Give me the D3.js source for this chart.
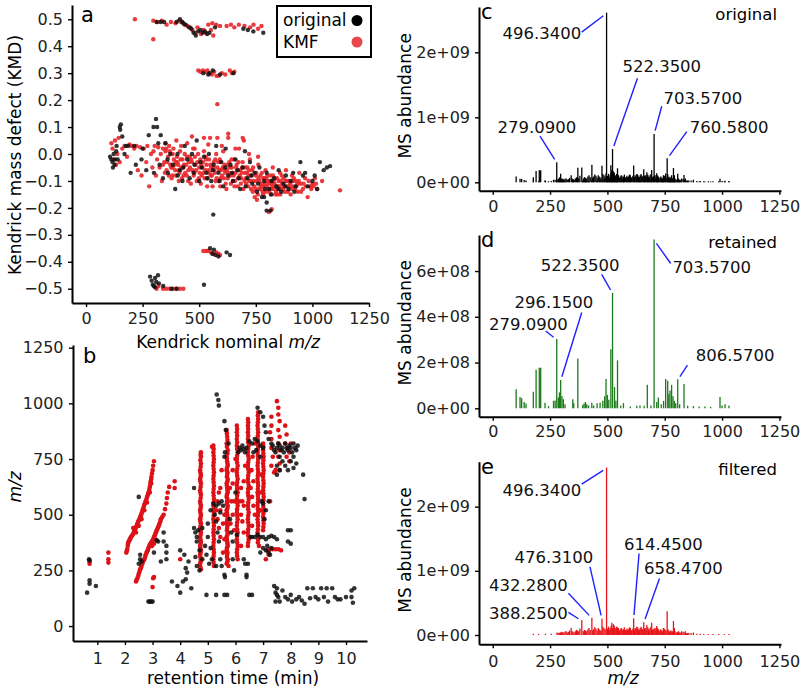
<!DOCTYPE html>
<html>
<head>
<meta charset="utf-8">
<script src="https://cdn.jsdelivr.net/npm/d3@7"></script>
<style>
	body { margin: 0; background: #fff; }
	svg { display: block; font-family: "DejaVu Sans", sans-serif; }
</style>
</head>
<body>
<div class="svg-container"></div>
<script>
(function () {

	"use strict";

	// panel a: kendrick nominal m/z vs kendrick mass defect
	var kmdOriginal = [
		[106,-0.01],[112,-0.02],[117,-0.03],[119,-0.05],[122,0.0],[126,-0.04],[128,-0.02],[133,0.01],[149,0.1],[154,0.11],[151,0.09],[160,0.065],
		[170,0.0],[176,0.03],[186,0.03],[197,-0.07],[213,0.03],[245,-0.02],[266,-0.06],[277,0.07],[298,0.1],[309,0.13],[314,0.1],[319,0.04],
		[325,-0.04],[330,0.07],[340,-0.09],[351,0.04],[362,-0.07],[372,0.0],[383,-0.04],[394,-0.13],[404,0.0],[415,-0.06],[426,-0.1],[436,0.03],
		[447,-0.02],[458,-0.09],[468,0.0],[479,-0.04],[489,0.05],[500,-0.1],[511,-0.05],[521,-0.01],[532,-0.07],[543,0.0],[553,-0.1],[564,-0.04],
		[575,0.03],[585,-0.07],[596,-0.03],[606,-0.12],[617,0.02],[628,-0.08],[638,-0.04],[649,-0.1],[660,-0.02],[670,-0.06],[681,-0.13],[692,-0.05],
		[702,0.01],[713,-0.09],[724,-0.03],[734,-0.11],[745,-0.07],[755,-0.14],[766,-0.05],[777,-0.16],[787,-0.1],[798,-0.07],[809,-0.13],[819,-0.15],
		[830,-0.09],[841,-0.12],[851,-0.06],[862,-0.14],[872,-0.11],[883,-0.08],[894,-0.13],[904,-0.1],[915,-0.07],[926,-0.12],[947,-0.03],[958,-0.08],
		[968,-0.07],[1000,-0.1],[1021,-0.13],[1033,-0.03],[1050,-0.06],[1064,-0.05],[1078,-0.045],[562,-0.225],[798,-0.21],[815,-0.21],[787,-0.16],[798,-0.18],
		[360,-0.02],[405,-0.08],[430,-0.05],[475,-0.07],[505,-0.03],[535,-0.09],[560,-0.06],[590,-0.1],[615,-0.05],[645,-0.07],[675,-0.09],[705,-0.12],
		[730,-0.08],[760,-0.11],[790,-0.13],[820,-0.1],[850,-0.13],[880,-0.12],[920,-0.14],[980,-0.12],[1010,-0.08],[300,-0.07],[250,0.02],[220,-0.04],
		[140,-0.02],[135,0.03],
		[312,0.49],[330,0.49],[345,0.49],[400,0.49],[415,0.5],[425,0.49],[430,0.485],[440,0.48],[455,0.47],[465,0.465],[475,0.45],[485,0.44],
		[495,0.455],[505,0.46],[515,0.45],[525,0.455],[535,0.445],[545,0.45],[570,0.47],[695,0.465],[715,0.46],[739,0.455],[783,0.45],
		[560,0.31],[545,0.3],[540,0.295],[518,0.3],[592,0.295],[651,0.3],
		[548,-0.35],[558,-0.37],[572,-0.375],[565,-0.355],[585,-0.38],[621,-0.365],[636,-0.375],
		[283,-0.455],[290,-0.47],[295,-0.485],[300,-0.49],[305,-0.46],[310,-0.475],[318,-0.45],[322,-0.48],[305,-0.495],[341,-0.49],[378,-0.5],[400,-0.5],[521,-0.485]
	];

	var kmdFiltered = [
		[112,0.04],[117,0.02],[122,-0.02],[128,0.05],[133,-0.04],[138,0.0],[144,0.06],[149,-0.03],[160,0.02],[170,0.03],[181,-0.01],[192,0.035],
		[202,0.03],[213,0.02],[223,0.03],[229,-0.06],[239,0.025],[245,-0.08],[255,0.02],[266,-0.03],[271,0.03],[279,-0.12],[287,0.0],[293,-0.05],
		[298,0.01],[303,0.03],[309,-0.08],[314,-0.02],[319,0.025],[325,-0.05],[330,0.0],[335,-0.1],[340,0.02],[346,-0.03],[351,0.01],[356,-0.06],
		[362,-0.01],[367,0.03],[372,-0.04],[378,-0.09],[383,0.0],[388,-0.02],[394,-0.06],[399,0.05],[404,-0.03],[410,-0.1],[415,0.01],[420,-0.05],
		[426,-0.02],[431,-0.08],[436,0.0],[442,-0.04],[447,0.04],[452,-0.06],[458,-0.01],[463,-0.11],[468,-0.03],[473,0.02],[479,-0.07],[484,-0.04],
		[489,-0.1],[495,0.0],[500,-0.05],[505,-0.02],[511,-0.08],[516,-0.03],[521,0.01],[527,-0.06],[532,-0.04],[537,-0.09],[543,-0.02],[548,0.06],
		[553,-0.05],[559,-0.12],[564,-0.03],[569,-0.07],[575,0.0],[580,-0.05],[585,-0.1],[591,-0.02],[596,-0.06],[601,-0.08],[606,0.01],[612,-0.04],
		[617,-0.11],[622,-0.06],[628,0.06],[633,-0.03],[638,-0.08],[644,-0.05],[649,-0.1],[654,-0.02],[660,-0.07],[665,-0.04],[670,-0.12],[676,0.02],
		[681,-0.06],[686,-0.09],[692,-0.03],[697,0.05],[702,-0.07],[708,-0.11],[713,-0.05],[718,-0.08],[724,-0.02],[729,-0.13],[734,-0.06],[740,-0.1],
		[745,-0.16],[750,-0.08],[755,-0.17],[761,-0.04],[766,-0.1],[771,-0.13],[777,-0.07],[782,-0.15],[787,-0.09],[793,-0.06],[798,-0.12],[803,-0.1],
		[809,-0.14],[814,-0.08],[819,-0.11],[825,-0.05],[830,-0.13],[835,-0.09],[841,-0.12],[846,-0.15],[851,-0.1],[857,-0.07],[862,-0.13],[867,-0.11],
		[872,-0.09],[878,-0.14],[883,-0.06],[888,-0.12],[894,-0.1],[904,-0.15],[910,-0.08],[915,-0.12],[926,-0.1],[936,-0.14],[942,-0.07],[947,-0.11],
		[958,-0.13],[968,-0.09],[979,-0.16],[990,-0.12],[1000,-0.11],[1011,-0.09],[1021,-0.13],[1043,-0.1],[1122,-0.135],
		[468,0.065],[521,0.06],[628,0.075],[580,0.06],[692,0.06],[808,-0.215],[820,-0.205],
		[383,-0.05],[396,-0.03],[413,-0.07],[428,-0.05],[445,-0.08],[455,-0.03],[470,-0.06],[481,-0.01],[498,-0.09],[509,-0.04],[519,-0.07],[530,-0.02],
		[540,-0.06],[551,-0.08],[562,-0.05],[572,-0.1],[583,-0.03],[594,-0.09],[604,-0.05],[615,-0.07],[626,-0.09],[636,-0.05],[647,-0.07],[658,-0.1],
		[668,-0.06],[679,-0.08],[690,-0.05],[700,-0.1],[711,-0.07],[721,-0.1],[732,-0.08],[743,-0.12],[753,-0.1],[764,-0.13],[775,-0.11],[785,-0.12],
		[796,-0.09],[807,-0.11],[817,-0.13],[828,-0.1],[839,-0.14],[849,-0.12],[860,-0.1],[870,-0.13],[881,-0.1],[892,-0.14],[902,-0.11],[913,-0.1],
		[923,-0.13],[934,-0.11],
		[410,-0.06],[418,-0.02],[424,-0.09],[432,-0.04],[438,-0.07],[446,-0.01],[451,-0.1],[459,-0.05],[464,-0.02],[476,-0.08],[486,-0.06],[492,-0.03],
		[502,-0.07],[507,-0.11],[514,-0.05],[524,-0.09],[529,-0.01],[535,-0.12],[545,-0.07],[549,-0.04],[556,-0.08],[566,-0.06],[571,-0.02],[577,-0.09],
		[588,-0.06],[593,-0.12],[598,-0.03],[609,-0.09],[613,-0.06],[620,-0.13],[624,-0.04],[631,-0.07],[640,-0.11],[643,-0.02],[652,-0.08],[656,-0.12],
		[663,-0.05],[672,-0.09],[674,-0.03],[684,-0.11],[688,-0.07],[695,-0.13],[704,-0.05],[706,-0.09],[716,-0.12],[720,-0.06],[727,-0.1],[737,-0.14],
		[738,-0.05],[748,-0.13],[752,-0.07],[759,-0.15],[762,-0.09],[770,-0.08],[773,-0.12],[780,-0.14],[783,-0.09],[791,-0.11],[794,-0.14],[801,-0.08],
		[805,-0.13],[812,-0.1],[816,-0.15],[823,-0.12],[826,-0.08],[833,-0.11],[837,-0.15],[844,-0.09],[848,-0.13],[855,-0.12],[858,-0.15],[865,-0.08],
		[876,-0.12],[886,-0.1],[897,-0.12],[907,-0.13],[918,-0.09],[929,-0.12],[940,-0.1],[950,-0.14],[961,-0.11],[972,-0.12],[983,-0.1],[995,-0.13],
		[1005,-0.12],[1016,-0.11],[340,-0.04],[348,-0.07],[354,0.02],[359,-0.03],[365,-0.08],[370,0.01],[376,-0.05],[381,-0.08],[386,0.02],[392,-0.04],
		[397,-0.08],[402,-0.01],[407,-0.04],[350,0.04],[420,0.03],[480,0.02],[540,0.035],[600,0.03],[660,0.02],[720,0.0],[760,-0.01],
		[216,0.5],[297,0.495],[315,0.49],[335,0.495],[356,0.48],[375,0.49],[395,0.485],[410,0.495],[420,0.49],[435,0.48],[448,0.475],[460,0.47],
		[470,0.46],[482,0.45],[492,0.47],[508,0.445],[520,0.46],[530,0.45],[540,0.48],[552,0.46],[562,0.44],[558,0.485],[575,0.48],[592,0.475],
		[621,0.475],[640,0.48],[655,0.47],[675,0.48],[700,0.475],[725,0.47],[740,0.48],[760,0.465],[775,0.475],[297,0.426],
		[496,0.31],[506,0.305],[516,0.31],[526,0.305],[536,0.31],[546,0.3],[556,0.295],[566,0.305],[576,0.29],[586,0.29],[600,0.3],[615,0.295],
		[635,0.31],[645,0.3],[655,0.305],[580,0.185],
		[518,-0.36],[530,-0.36],[540,-0.36],[552,-0.365],[562,-0.37],[575,-0.365],[585,-0.37],[592,-0.375],
		[312,-0.5],[320,-0.49],[340,-0.5],[355,-0.5],[370,-0.5],[385,-0.5],[400,-0.5],[415,-0.5],[430,-0.5]
	];

	// panel b: retention time (min) vs m/z
	var rtOriginal = [
		[0.63,150],[0.72,190],[0.72,205],[0.95,180],[0.72,295],[0.7,300],
		[2.5,580],[2.55,300],[2.5,280],[2.6,290],[2.55,320],[2.85,110],[2.9,110],[2.95,110],[3.0,110],
		[3.05,330],[3.15,385],[3.2,380],[3.3,290],[3.4,420],[3.5,360],[3.5,330],[3.5,300],[3.4,380],
		[3.7,200],[3.9,180],[4.0,340],[4.0,150],[4.1,200],[4.15,320],[4.2,260],[4.25,240],[4.3,290],[4.4,170],[4.2,210],
		[4.5,620],[4.5,440],[4.55,420],[4.6,400],[4.65,430],[4.6,380],[4.7,340],[4.55,310],[4.6,270],[4.7,250],[4.8,300],[4.8,440],
		[4.9,360],[4.95,320],[5.0,400],[5.0,460],[5.05,280],[5.1,350],[5.1,520],[5.15,300],[5.2,550],[5.25,500],[5.3,470],[5.3,540],
		[5.35,420],[5.4,380],[5.4,550],[5.45,300],[5.5,270],[5.3,270],[5.45,510],[5.5,560],[5.55,540],[5.6,230],[5.62,220],
		[4.95,140],[5.3,140],[5.6,140],[5.7,140],[5.32,1040],[5.38,1015],[5.4,990],
		[5.6,920],[5.65,880],[5.62,780],[5.6,760],[5.75,820],[5.8,480],[5.85,420],[5.9,380],[5.95,250],[5.9,300],[6.0,600],[6.05,410],
		[6.1,780],[6.15,800],[6.2,790],[6.25,810],[6.3,795],[6.35,780],[6.4,800],[6.3,300],[6.35,280],[6.4,230],[6.4,220],[6.45,280],
		[6.5,140],[6.6,140],[6.55,400],[6.6,400],[6.7,400],[6.8,410],[6.9,400],[7.0,400],[7.1,390],[7.2,400],[7.3,405],[7.4,400],[7.5,390],
		[6.5,830],[6.6,820],[6.7,840],[6.8,830],[6.9,810],[7.0,800],[6.75,790],[6.65,780],[6.9,760],[6.8,980],[6.9,960],[7.0,940],
		[7.05,900],[7.1,870],[7.2,840],[7.3,820],[7.35,810],[7.4,790],[7.45,780],[7.5,800],[7.55,820],[7.6,810],[7.65,790],[7.7,800],
		[7.75,780],[7.8,820],[7.85,800],[7.9,790],[7.95,810],[8.0,800],[8.05,780],[8.1,820],[8.15,800],[8.2,790],[8.25,810],
		[7.6,760],[7.7,740],[7.8,720],[7.9,700],[8.0,740],[8.1,760],[8.2,730],[8.1,710],[7.5,680],[7.6,700],[7.5,720],
		[7.2,560],[7.1,520],[7.0,550],[6.95,560],[7.05,480],[7.1,340],[7.2,330],[7.25,320],[7.3,350],[7.0,350],[6.9,330],[7.15,360],
		[7.9,430],[8.0,430],[7.9,380],[8.0,370],[8.45,680],[8.5,570],
		[7.4,180],[7.5,170],[7.45,150],[7.5,140],[7.55,130],[7.45,110],[7.6,110],[7.7,160],[7.8,130],[7.9,120],[8.0,140],[8.05,110],
		[8.2,120],[8.3,130],[8.4,115],[8.5,100],[8.6,170],[8.7,125],[8.8,170],[8.9,130],[9.0,120],[9.1,170],[9.2,130],[9.3,170],
		[9.35,110],[9.5,170],[9.6,130],[9.7,120],[9.8,120],[10.0,130],[10.2,160],[10.2,130],[10.25,105],[10.3,170]
	];

	var rtFiltered = [
		[0.72,290],[0.72,280],[1.4,330],[1.4,300],[1.4,285],
		[2.05,330],[2.08,345],[2.1,360],[2.12,375],[2.16,385],[2.2,395],[2.25,405],[2.3,415],[2.35,430],[2.4,445],[2.45,460],[2.5,475],
		[2.55,490],[2.6,505],[2.65,525],[2.7,545],[2.75,560],[2.8,580],[2.85,600],[2.9,625],[2.93,650],[2.96,670],[3.0,700],[3.05,740],
		[2.3,440],[2.4,420],[2.5,450],[2.6,480],[2.7,520],[2.8,555],[2.9,600],[2.95,640],
		[2.07,338],[2.11,368],[2.14,380],[2.18,390],[2.22,400],[2.28,410],[2.33,422],[2.38,438],[2.43,452],[2.48,468],[2.53,482],[2.58,498],
		[2.63,515],[2.68,535],[2.73,552],[2.78,570],[2.83,590],[2.88,612],[2.92,638],[2.95,660],[2.98,685],[3.02,720],
		[2.4,200],[2.45,215],[2.5,235],[2.55,255],[2.6,270],[2.65,290],[2.7,300],[2.75,320],[2.8,335],[2.85,350],[2.9,365],[2.95,375],
		[3.0,385],[3.05,400],[3.1,415],[3.15,430],[3.2,445],[3.25,460],[3.3,480],[3.4,500],[3.5,550],[3.55,600],[3.6,625],[3.8,650],
		[2.42,207],[2.48,225],[2.53,245],[2.58,262],[2.63,280],[2.68,295],[2.73,310],[2.78,328],[2.83,342],[2.88,358],[2.93,370],[2.98,380],
		[3.03,392],[3.08,408],[3.13,422],[3.18,438],[3.23,452],[3.28,470],[3.35,490],[3.45,525],[3.52,575],
		[3.8,620],[2.98,360],[3.05,370],[3.1,390],[3.0,175],[3.02,215],[3.05,220],[4.0,300],
		[4.75,780],[4.75,760],[4.75,730],[4.72,700],[4.75,680],[4.72,660],[4.75,640],[4.72,610],[4.75,590],[4.72,560],[4.75,540],[4.72,520],
		[4.75,500],[4.72,480],[4.75,460],[4.72,440],[4.75,420],[4.72,400],[4.75,380],[4.72,360],[4.75,340],[4.72,320],[4.75,300],[4.72,280],[4.75,255],
		[4.74,770],[4.73,745],[4.74,715],[4.73,690],[4.74,670],[4.73,650],[4.74,625],[4.73,600],[4.74,575],[4.73,550],[4.74,530],[4.73,510],
		[4.74,490],[4.73,470],[4.74,450],[4.73,430],[4.74,410],[4.73,390],[4.74,370],[4.73,350],[4.74,330],[4.73,310],[4.74,290],[4.73,265],
		[5.2,810],[5.2,780],[5.22,750],[5.2,720],[5.22,690],[5.2,660],[5.22,630],[5.2,600],[5.22,570],[5.2,540],[5.22,510],[5.2,480],
		[5.22,450],[5.2,420],[5.22,390],[5.2,360],[5.22,330],[5.2,300],[5.22,270],[5.3,520],[5.35,480],[5.4,440],[5.45,400],[5.35,560],[5.45,520],
		[5.21,795],[5.21,765],[5.21,735],[5.21,705],[5.21,675],[5.21,645],[5.21,615],[5.21,585],[5.21,555],[5.21,525],[5.21,495],[5.21,465],
		[5.21,435],[5.21,405],[5.21,375],[5.21,345],[5.21,315],[5.21,285],
		[5.68,880],[5.7,850],[5.68,820],[5.72,790],[5.68,760],[5.7,740],[5.72,720],[5.68,700],[5.7,680],[5.72,660],[5.68,640],[5.7,620],
		[5.72,600],[5.68,580],[5.7,560],[5.72,540],[5.68,520],[5.7,500],[5.72,480],[5.68,460],[5.7,440],[5.72,420],[5.68,400],[5.7,380],
		[5.72,360],[5.68,340],[5.7,320],[5.72,300],[5.68,280],[5.75,270],[5.8,620],[5.85,560],[5.9,500],[5.82,460],[5.95,430],[5.6,500],
		[5.55,460],[5.6,390],[5.55,330],
		[5.69,865],[5.71,835],[5.69,805],[5.71,775],[5.69,750],[5.71,730],[5.69,710],[5.71,690],[5.69,670],[5.71,650],[5.69,630],[5.71,610],
		[5.69,590],[5.71,570],[5.69,550],[5.71,530],[5.69,510],[5.71,490],[5.69,470],[5.71,450],[5.69,430],[5.71,410],[5.69,390],[5.71,370],
		[5.69,350],[5.71,330],[5.69,310],[5.71,290],
		[6.05,900],[6.05,870],[6.05,840],[6.05,810],[6.08,780],[6.05,750],[6.08,720],[6.05,690],[6.08,660],[6.05,630],[6.08,600],[6.05,570],
		[6.08,540],[6.05,510],[6.08,480],[6.05,450],[6.08,420],[6.05,390],[6.08,360],[6.05,330],[6.08,300],[6.15,560],[6.2,500],[6.25,470],
		[6.3,420],[6.2,620],
		[6.06,885],[6.06,855],[6.06,825],[6.06,795],[6.06,765],[6.06,735],[6.06,705],[6.06,675],[6.06,645],[6.06,615],[6.06,585],[6.06,555],
		[6.06,525],[6.06,495],[6.06,465],[6.06,435],[6.06,405],[6.06,375],[6.06,345],[6.06,315],
		[6.45,930],[6.45,900],[6.45,870],[6.45,840],[6.48,810],[6.45,780],[6.48,750],[6.45,720],[6.48,690],[6.45,660],[6.48,630],[6.45,600],
		[6.48,570],[6.45,540],[6.48,510],[6.45,480],[6.48,450],[6.45,420],[6.48,390],[6.45,360],[6.55,620],[6.6,580],[6.65,540],[6.7,500],
		[6.58,700],[6.62,760],
		[6.46,915],[6.46,885],[6.46,855],[6.46,825],[6.46,795],[6.46,765],[6.46,735],[6.46,705],[6.46,675],[6.46,645],[6.46,615],[6.46,585],
		[6.46,555],[6.46,525],[6.46,495],[6.46,465],[6.46,435],[6.46,405],[6.46,375],
		[6.82,960],[6.82,930],[6.8,900],[6.82,870],[6.8,840],[6.82,810],[6.8,780],[6.82,750],[6.8,720],[6.82,690],[6.8,660],[6.82,630],
		[6.8,600],[6.82,570],[6.8,540],[6.82,510],[6.8,480],[6.82,450],[6.8,420],[6.82,390],[6.85,360],
		[6.81,945],[6.81,915],[6.81,885],[6.81,855],[6.81,825],[6.81,795],[6.81,765],[6.81,735],[6.81,705],[6.81,675],[6.81,645],[6.81,615],
		[6.81,585],[6.81,555],[6.81,525],[6.81,495],[6.81,465],[6.81,435],[6.81,405],[6.81,375],
		[7.0,820],[7.0,790],[7.02,760],[7.0,730],[7.02,700],[7.0,670],[7.02,640],[7.0,610],[7.02,580],[7.0,550],[7.02,520],[7.0,490],
		[7.02,460],[7.0,430],[6.9,600],[6.95,680],[6.9,520],
		[7.01,805],[7.01,775],[7.01,745],[7.01,715],[7.01,685],[7.01,655],[7.01,625],[7.01,595],[7.01,565],[7.01,535],[7.01,505],[7.01,475],[7.01,445],
		[5.45,620],[5.5,700],[5.9,700],[6.0,750],[6.3,650],[6.35,720],[6.65,650],[6.7,820],[5.95,560],[6.25,560],[6.6,450],[6.2,360],
		[5.4,600],[5.9,640],[6.3,540],
		[7.3,940],[7.3,900],[7.25,870],[7.3,840],[7.3,800],[7.35,760],[7.3,720],[7.5,1010],[7.55,980],[7.55,950],[7.6,920],[7.55,880],
		[7.6,850],[7.55,820],[7.6,790],[7.55,760],[7.6,730],[7.45,700],[7.4,690],[7.6,700],[7.1,300],[7.15,340],[7.25,345],[7.35,345],
		[7.45,345],[7.55,345],[7.65,340],[7.2,320],[7.25,560],
		[7.8,900],[7.85,860],[7.8,820],[7.9,800],[7.95,780],[7.85,760],[8.0,820],[7.95,740],[5.15,805]
	];

	// panels c-e: stick spectra, m/z and MS abundance
	var retainedPeaks = [
		[102,0.81e8],[119,0.47e8],[126,0.41e8],[137,0.25e8],[145,0.18e8],[177,0.7e8],[189,1.66e8],[203,1.75e8],[209,1.75e8],[228,0.22e8],
		[243,0.07e8],[265,0.3e8],[272,0.32e8],[279.09,3.0e8],[286,0.45e8],[291,0.67e8],[296.15,1.21e8],[302,0.5e8],[308,0.37e8],[315,0.15e8],
		[349,0.37e8],[353,0.2e8],[371,2.15e8],[392,0.12e8],[398,0.18e8],[404,0.25e8],[410,0.15e8],[418,0.1e8],[432,0.22e8],[440,0.1e8],
		[455,0.2e8],[468,0.22e8],[480,0.3e8],[488,0.5e8],[494,1.26e8],[500,0.56e8],[506,0.35e8],[515,2.55e8],[522.35,5.02e8],[531,0.9e8],
		[537,0.3e8],[544,2.07e8],[558,0.1e8],[570,0.2e8],[600,0.05e8],[628,0.08e8],[642,0.1e8],[660,0.08e8],[674,1.0e8],[690,0.1e8],
		[703.57,7.35e8],[715,0.25e8],[722,0.45e8],[735,0.15e8],[745,0.3e8],[754,1.26e8],[763,1.18e8],[768,0.6e8],[773,0.75e8],[780,1.0e8],
		[786,0.5e8],[792,0.3e8],[798,0.2e8],[806.57,1.24e8],[815,0.15e8],[834,1.04e8],[850,0.08e8],[875,0.07e8],[900,0.05e8],[925,0.05e8],
		[950,0.04e8],[991,0.47e8],[1000,0.1e8],[1013,0.15e8],[1030,0.1e8]
	];

	var filteredPeaks = [
		[177,0.01e9],[200,0.008e9],[230,0.01e9],[255,0.01e9],[280,0.03e9],[290,0.025e9],[300,0.04e9],[310,0.03e9],[320,0.05e9],[330,0.04e9],
		[342,0.1e9],[350,0.04e9],[360,0.05e9],[370,0.06e9],[388.25,0.22e9],[395,0.05e9],[405,0.06e9],[415,0.08e9],[425,0.07e9],[432.28,0.26e9],
		[440,0.08e9],[450,0.09e9],[460,0.1e9],[468,0.07e9],[476.31,0.245e9],[485,0.1e9],[490,0.08e9],[496.34,2.6e9],[505,0.12e9],[512,0.1e9],
		[519,0.18e9],[526,0.16e9],[534,0.1e9],[540,0.12e9],[548,0.1e9],[556,0.08e9],[563,0.09e9],[570,0.08e9],[578,0.07e9],[585,0.09e9],
		[592,0.08e9],[600,0.1e9],[607,0.07e9],[614.45,0.25e9],[621,0.1e9],[628,0.12e9],[636,0.08e9],[643,0.1e9],[650,0.09e9],[658.47,0.19e9],
		[665,0.1e9],[672,0.145e9],[680,0.08e9],[686,0.1e9],[693,0.18e9],[700,0.08e9],[708,0.1e9],[715,0.13e9],[722,0.08e9],[730,0.07e9],
		[737,0.06e9],[744,0.1e9],[752,0.07e9],[760.58,0.36e9],[768,0.06e9],[775,0.05e9],[782,0.04e9],[788,0.21e9],[795,0.05e9],[805,0.04e9],
		[815,0.03e9],[824,0.05e9],[835,0.03e9],[845,0.02e9],[855,0.02e9],[865,0.02e9],[875,0.03e9],[890,0.01e9],[905,0.01e9],[920,0.008e9],
		[940,0.008e9],[960,0.006e9],[985,0.006e9],[1010,0.005e9],[1030,0.005e9],
		[285,0.02e9],[295,0.03e9],[305,0.035e9],[315,0.045e9],[325,0.03e9],[335,0.06e9],[346,0.05e9],[355,0.03e9],[365,0.07e9],[375,0.05e9],
		[380,0.09e9],[400,0.07e9],[410,0.05e9],[420,0.1e9],[436,0.06e9],[445,0.11e9],[455,0.06e9],[464,0.08e9],[472,0.05e9],[480,0.12e9],
		[500,0.09e9],[509,0.07e9],[516,0.13e9],[522,0.1e9],[530,0.14e9],[537,0.08e9],[544,0.11e9],[552,0.06e9],[560,0.1e9],[567,0.06e9],
		[574,0.11e9],[582,0.06e9],[588,0.07e9],[596,0.11e9],[604,0.06e9],[611,0.09e9],[618,0.07e9],[625,0.08e9],[632,0.11e9],[640,0.07e9],
		[647,0.12e9],[654,0.08e9],[662,0.09e9],[668,0.07e9],[676,0.11e9],[683,0.06e9],[690,0.12e9],[697,0.07e9],[704,0.09e9],[711,0.06e9],
		[718,0.1e9],[726,0.05e9],[733,0.08e9],[740,0.05e9],[748,0.09e9],[756,0.06e9],[764,0.08e9],[771,0.04e9],[778,0.06e9],[785,0.05e9],
		[792,0.1e9],[800,0.03e9],[810,0.05e9],[820,0.03e9],[830,0.04e9],[840,0.05e9],[850,0.02e9]
	];

	// the original spectrum is everything, retained plus filtered
	var originalPeaks = retainedPeaks.concat(filteredPeaks);

	// labelled peaks
	var labelsC = [496.34, 522.35, 703.57, 760.58, 279.09],
		labelsD = [703.57, 522.35, 296.15, 279.09, 806.57],
		labelsE = [496.34, 614.45, 658.47, 476.31, 432.28, 388.25];

	// tick values
	var kmdTicks = [-0.5, -0.4, -0.3, -0.2, -0.1, 0, 0.1, 0.2, 0.3, 0.4, 0.5],
		mzTicks = [0, 250, 500, 750, 1000, 1250],
		rtTicks = [1, 2, 3, 4, 5, 6, 7, 8, 9, 10],
		abundTicksBig = [0, 1e9, 2e9],
		abundTicksSmall = [0, 2e8, 4e8, 6e8];

	// label placement, [label m/z, label abundance, leader start m/z, leader start abundance]
	var spotC = [[214, 2.29e9, 388, 2.31e9], [737, 1.78e9, 631, 1.60e9], [916, 1.29e9, 737, 1.17e9], [1031, 0.855e9, 846, 0.78e9], [192, 0.84e9, 206, 0.71e9]],
		spotD = [[955, 6.18e8, 776, 6.33e8], [381, 6.26e8, 475, 5.85e8], [267, 4.63e8, 388, 4.19e8], [155, 3.68e8, 231, 3.38e8], [1057, 2.33e8, 849, 1.89e8]],
		spotE = [[214, 2.26e9, 388, 2.35e9], [744, 1.41e9, 638, 1.27e9], [831, 1.04e9, 727, 0.88e9], [267, 1.21e9, 424, 1.06e9], [155, 0.78e9, 330, 0.65e9], [155, 0.338e9, 330, 0.353e9]];

	var width = 800,
		height = 694,
		tickFont = 16,
		titleFont = 17,
		labelFont = 16.5;

	var svg = d3.select(".svg-container").append("svg")
		.attr("width", width)
		.attr("height", height);

	svg.append("rect").attr("width", width).attr("height", height).attr("fill", "#fff");

	// R style scientific labels
	function sci(v) {
		if (v === 0) return "0e+00";
		var e = Math.floor(Math.log10(v) + 1e-9),
			m = Math.round(v / Math.pow(10, e));
		return m + "e+" + (e < 10 ? "0" : "") + e;
	}

	function styleAxis(g) {
		g.attr("font-family", null).attr("font-size", tickFont);
		g.select(".domain").attr("stroke", "#000").attr("stroke-width", 2);
		g.selectAll(".tick line").attr("stroke", "#000").attr("stroke-width", 1.4);
		g.selectAll(".tick text").attr("fill", "#222");
	}

	function drawAxes(x, y, xTicks, yTicks, xFormat, yFormat, xPad, yPad) {
		var gx = svg.append("g")
			.attr("transform", "translate(0," + y.range()[0] + ")")
			.call(d3.axisBottom(x).tickValues(xTicks).tickFormat(xFormat).tickSize(4).tickSizeOuter(0).tickPadding(xPad));
		var gy = svg.append("g")
			.attr("transform", "translate(" + x.range()[0] + ",0)")
			.call(d3.axisLeft(y).tickValues(yTicks).tickFormat(yFormat).tickSize(4).tickSizeOuter(0).tickPadding(yPad));
		styleAxis(gx);
		styleAxis(gy);
	}

	function mzTitle(g, x, y, rotate, prefix) {
		var t = g.append("text")
			.attr("font-size", titleFont)
			.attr("text-anchor", "middle")
			.attr("transform", "translate(" + x + "," + y + ")" + (rotate ? " rotate(-90)" : ""))
			.attr("dy", "0.35em");
		if (prefix) t.append("tspan").text(prefix);
		t.append("tspan").attr("font-style", "italic").text("m/z");
	}

	function title(txt, x, y, rotate) {
		svg.append("text")
			.attr("font-size", titleFont)
			.attr("text-anchor", "middle")
			.attr("dy", "0.35em")
			.attr("transform", "translate(" + x + "," + y + ")" + (rotate ? " rotate(-90)" : ""))
			.text(txt);
	}

	function panelLetter(txt, x, y) {
		svg.append("text")
			.attr("x", x)
			.attr("y", y)
			.attr("font-size", 21)
			.text(txt);
	}

	function dots(g, rows, x, y, r, colour, opacity) {
		g.append("g").selectAll("circle").data(rows).enter().append("circle")
			.attr("cx", function (d) { return x(d[0]); })
			.attr("cy", function (d) { return y(d[1]); })
			.attr("r", r)
			.attr("fill", colour)
			.attr("fill-opacity", opacity);
	}

	// ---- panel a
	var xa = d3.scaleLinear().domain([-62, 1250]).range([72, 369]),
		ya = d3.scaleLinear().domain([-0.553, 0.553]).range([303, 5]);

	drawAxes(xa, ya, mzTicks, kmdTicks, d3.format("d"), d3.format(".1f"), 6, 5);

	var ga = svg.append("g");
	dots(ga, kmdFiltered, xa, ya, 2.2, "#e8262a", 0.9);
	dots(ga, kmdOriginal, xa, ya, 2.2, "#111", 0.85);

	// legend
	var legend = svg.append("g").attr("transform", "translate(277,6)");
	legend.append("rect").attr("width", 94).attr("height", 51).attr("fill", "#fff").attr("stroke", "#000").attr("stroke-width", 2);
	legend.append("text").attr("x", 6).attr("y", 20).attr("font-size", 17).text("original");
	legend.append("text").attr("x", 6).attr("y", 42).attr("font-size", 17).text("KMF");
	legend.append("circle").attr("cx", 80).attr("cy", 14.5).attr("r", 5.5).attr("fill", "#000");
	legend.append("circle").attr("cx", 80).attr("cy", 36).attr("r", 5.5).attr("fill", "#e8474b");

	panelLetter("a", 81, 22);
	title("Kendrick mass defect (KMD)", 15, 155, true);
	mzTitle(svg, 228, 342, false, "Kendrick nominal ");

	// ---- panel b
	var xb = d3.scaleLinear().domain([0.12, 10.76]).range([73, 367]),
		yb = d3.scaleLinear().domain([-67, 1262]).range([641, 345]);

	drawAxes(xb, yb, rtTicks, mzTicks, d3.format("d"), d3.format("d"), 8, 5.5);

	var gb = svg.append("g");
	dots(gb, rtFiltered, xb, yb, 2.3, "#dc1218", 1);
	dots(gb, rtOriginal, xb, yb, 2.3, "#111", 0.85);

	panelLetter("b", 83, 363);
	mzTitle(svg, 15, 487, true);
	title("retention time (min)", 233, 678, false);

	// ---- panels c, d, e
	function spectrumPanel(top, bottom, yDomain, yTicks, peaks, labels, spots, colour, name, letter, xPad) {
		var x = d3.scaleLinear().domain([-60, 1257]).range([479, 781]),
			y = d3.scaleLinear().domain(yDomain).range([bottom, top]);

		var g = svg.append("g");
		g.selectAll("line").data(peaks).enter().append("line")
			.attr("x1", function (d) { return x(d[0]); })
			.attr("x2", function (d) { return x(d[0]); })
			.attr("y1", y(0))
			.attr("y2", function (d) { return y(d[1]) - 0.6; })
			.attr("stroke", colour)
			.attr("stroke-width", 1.3);

		drawAxes(x, y, mzTicks, yTicks, d3.format("d"), sci, xPad, 5);

		// labels with blue leaders
		labels.forEach(function (mz, i) {
			var peak = peaks.filter(function (d) { return d[0] === mz; })[0],
				spot = spots[i],
				px = x(mz), py = y(peak[1]),
				sx = x(spot[2]), sy = y(spot[3]),
				dx = sx - px, dy = sy - py,
				len = Math.sqrt(dx * dx + dy * dy);
			svg.append("line")
				.attr("x1", sx).attr("y1", sy)
				.attr("x2", px + dx / len * 4).attr("y2", py + dy / len * 4)
				.attr("stroke", "#1f1fff")
				.attr("stroke-width", 1.4);
			svg.append("text")
				.attr("x", x(spot[0]))
				.attr("y", y(spot[1]))
				.attr("dy", "0.35em")
				.attr("text-anchor", "middle")
				.attr("font-size", labelFont)
				.attr("fill", "#111")
				.text(d3.format(".4f")(mz));
		});

		svg.append("text")
			.attr("x", 777)
			.attr("y", top + 13)
			.attr("text-anchor", "end")
			.attr("font-size", 16.5)
			.text(name);

		panelLetter(letter, 481, top + 12);
		title("MS abundance", 405, (top + bottom) / 2 - 3, true);
	}

	spectrumPanel(7, 190.7, [-0.129e9, 2.697e9], abundTicksBig, originalPeaks, labelsC, spotC, "#000", "original", "c", 5.5);
	spectrumPanel(235, 416.7, [-0.367e8, 7.575e8], abundTicksSmall, retainedPeaks, labelsD, spotD, "#1c7a1c", "retained", "d", 4.5);
	spectrumPanel(461.7, 644.3, [-0.145e9, 2.70e9], abundTicksBig, filteredPeaks, labelsE, spotE, "#e8161b", "filtered", "e", 7);

	mzTitle(svg, 623, 678, false);

})();
</script>
</body>
</html>
